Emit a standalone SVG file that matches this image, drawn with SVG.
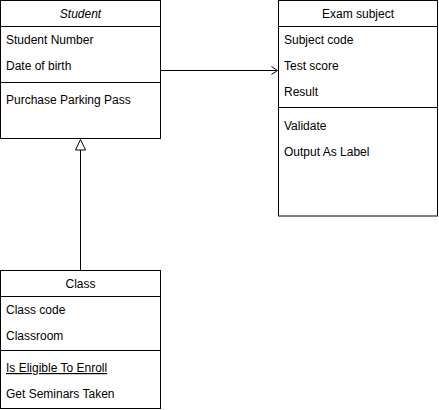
<svg xmlns="http://www.w3.org/2000/svg" width="439" height="410" viewBox="0 0 439 410">
<style>
.box{fill:#fff;stroke:#000;stroke-width:1}
.ln{stroke:#000;stroke-width:1;fill:none}
text{font-family:"Liberation Sans",Arial,sans-serif;font-size:12px;fill:#000}
.c{text-anchor:middle}
</style>
<rect width="439" height="410" fill="#fff"/>
<g id="connectors">
<path class="ln" d="M160.5 70.5 H276.5"/>
<path class="ln" d="M271.5 66.5 L277.5 70.5 L271.5 74.5"/>
<path class="ln" d="M80.5 150 V270.5"/>
<path class="ln" d="M80.5 139.5 L85.5 150 L75.5 150 Z" style="fill:#fff"/>
</g>
<g id="student">
<rect class="box" x="0.5" y="0.5" width="160" height="138"/>
<path class="ln" d="M0.5 26.5 H160.5 M0.5 82.5 H160.5"/>
<text class="c" x="80.5" y="18" font-style="italic">Student</text>
<text x="6" y="44">Student Number</text>
<text x="6" y="70">Date of birth</text>
<text x="6" y="104">Purchase Parking Pass</text>
</g>
<g id="exam-subject">
<rect class="box" x="278.5" y="0.5" width="159" height="215.5"/>
<path class="ln" d="M278.5 26.5 H437.5 M278.5 107.5 H437.5"/>
<text class="c" x="358" y="18">Exam subject</text>
<text x="284" y="44">Subject code</text>
<text x="284" y="70">Test score</text>
<text x="284" y="96">Result</text>
<text x="284" y="130">Validate</text>
<text x="284" y="156">Output As Label</text>
</g>
<g id="class">
<rect class="box" x="0.5" y="270.5" width="160" height="138"/>
<path class="ln" d="M0.5 296.5 H160.5 M0.5 350.5 H160.5"/>
<text class="c" x="80.5" y="288">Class</text>
<text x="6" y="314">Class code</text>
<text x="6" y="340">Classroom</text>
<text x="6" y="372" text-decoration="underline">Is Eligible To Enroll</text>
<text x="6" y="398">Get Seminars Taken</text>
</g>
</svg>
